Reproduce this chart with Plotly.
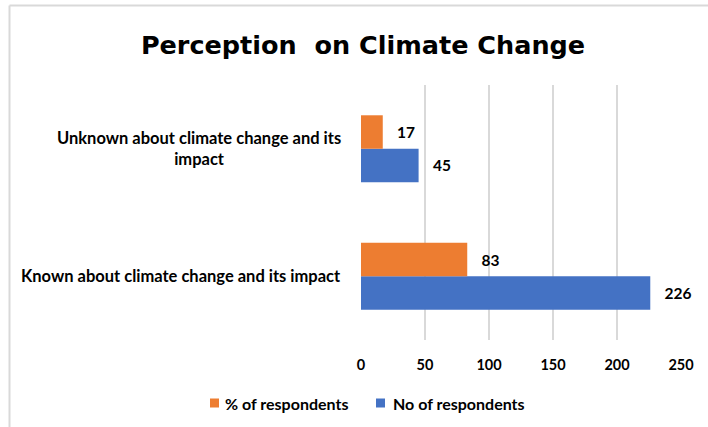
import plotly.graph_objects as go

# Survey categories (bottom to top) and series values
categories = [
    "Known about climate change and its impact",
    "Unknown about climate change and its impact",
]
category_labels = [
    "Known about climate change and its impact",
    "Unknown about climate change and its<br>impact",
]
series_names = ["No of respondents", "% of respondents"]
no_of_respondents = [226, 45]
pct_of_respondents = [83, 17]
x_ticks = [0, 50, 100, 150, 200, 250]

BLUE = "#4472C4"
ORANGE = "#ED7D31"
GRID = "#D9D9D9"
FONT = "Lato"

W, H = 708, 427
L, R, T, B = 361, 27, 85, 87
PW, PH = W - L - R, H - T - B


def px_to_paper_x(px):
    return (px - L) / PW


def px_to_paper_y(py):
    return (H - B - py) / PH


fig = go.Figure()

label_font = dict(family=FONT, size=15.5, color="#000000", weight="bold")

for name, values, color in [
    (series_names[0], no_of_respondents, BLUE),
    (series_names[1], pct_of_respondents, ORANGE),
]:
    fig.add_trace(go.Bar(
        name=name,
        y=categories,
        x=values,
        orientation="h",
        marker=dict(color=color, line=dict(width=0)),
        text=values,
        texttemplate="&nbsp;&nbsp;&nbsp;%{x}",
        textposition="outside",
        textfont=label_font,
        cliponaxis=False,
        showlegend=False,
    ))

# Category labels, centred multi-line text right-aligned to the axis
for cat, lab in zip(categories, category_labels):
    fig.add_annotation(
        x=px_to_paper_x(343), xref="paper", xanchor="right",
        y=cat, yref="y", yanchor="middle",
        text=lab, showarrow=False, align="center",
        font=dict(family=FONT, size=16.5, color="#000000", weight="bold"),
    )

# Legend below the axis: small square swatch followed by the series name
legend_items = [
    (series_names[1], ORANGE, 210, 223),
    (series_names[0], BLUE, 376, 391),
]
for name, color, sq_x, txt_x in legend_items:
    fig.add_shape(type="rect", xref="paper", yref="paper",
                  x0=px_to_paper_x(sq_x), x1=px_to_paper_x(sq_x + 9),
                  y0=px_to_paper_y(407.5), y1=px_to_paper_y(398.5),
                  fillcolor=color, line=dict(width=0))
    fig.add_annotation(
        x=px_to_paper_x(txt_x), xref="paper", xanchor="left",
        y=px_to_paper_y(403), yref="paper", yanchor="middle",
        text=name, showarrow=False,
        font=dict(family=FONT, size=16, color="#000000", weight="bold"),
    )

# Chart frame lines (top and left edges)
fig.add_shape(type="line", xref="paper", yref="paper",
              x0=px_to_paper_x(9.5), x1=px_to_paper_x(708),
              y0=px_to_paper_y(5.5), y1=px_to_paper_y(5.5),
              line=dict(color=GRID, width=2))
fig.add_shape(type="line", xref="paper", yref="paper",
              x0=px_to_paper_x(9.5), x1=px_to_paper_x(9.5),
              y0=px_to_paper_y(5.5), y1=px_to_paper_y(427),
              line=dict(color=GRID, width=2))

fig.update_layout(
    width=W, height=H,
    margin=dict(l=L, r=R, t=T, b=B),
    paper_bgcolor="white", plot_bgcolor="white",
    barmode="group", bargap=0.475, bargroupgap=0,
    title=dict(
        text="<b>Perception&nbsp; on Climate Change</b>",
        x=363 / W, xanchor="center", xref="container",
        y=1 - 45 / H, yanchor="middle", yref="container",
        font=dict(family="DejaVu Sans", size=25.5, color="#000000"),
    ),
    xaxis=dict(
        range=[0, 250], tickvals=x_ticks, ticktext=[str(v) for v in x_ticks],
        showgrid=True, gridcolor=GRID, gridwidth=1.5,
        zeroline=False, showline=False, ticks="",
        tickfont=dict(family=FONT, size=14.5, color="#000000", weight="bold"),
        ticklabelstandoff=14,
    ),
    yaxis=dict(
        showticklabels=False, showgrid=False, zeroline=False,
        showline=False, ticks="",
    ),
    showlegend=False,
)

fig.write_html("out.html")
